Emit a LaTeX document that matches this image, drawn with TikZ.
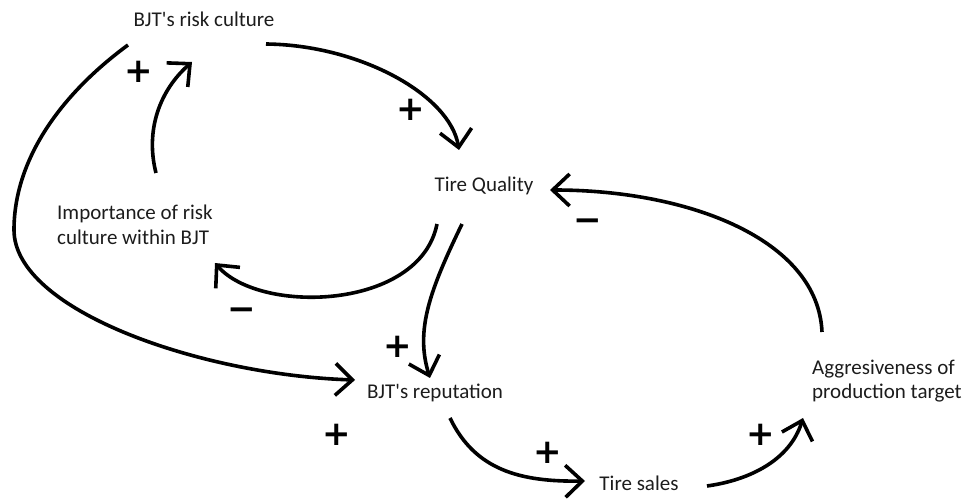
\documentclass[tikz,border=0pt]{standalone}
\usepackage{fontspec}
\setmainfont{Carlito}
\newfontfamily\signfont{DejaVu Sans}
\usetikzlibrary{arrows.meta}
\definecolor{inkblack}{RGB}{28,28,28}
\tikzset{
  factor/.style={inner sep=0pt, font=\fontsize{21}{24.5}\selectfont, text=inkblack},
  link/.style={line width=3.6pt, -{Straight Barb[length=17pt,width=32pt]}},
  polarity/.style={inner sep=0pt, font=\signfont\bfseries\fontsize{34}{34}\selectfont}
}
\begin{document}
\begin{tikzpicture}[x=1pt, y=-1pt]
  \useasboundingbox (0,0) rectangle (967,502);

  % Factors
  \node[factor] (risk) at (204,19) {BJT\textquotesingle s risk culture};
  \node[factor] (quality) at (484,186) {Tire Quality};
  \node[factor, align=left, anchor=west] (importance) at (57,225) {Importance of risk\\culture within BJT};
  \node[factor] (reputation) at (435,393) {BJT\textquotesingle s reputation};
  \node[factor] (sales) at (639,483) {Tire sales};
  \node[factor, align=left, anchor=west] (aggr) at (812,381) {Aggresiveness of\\production target};

  % Links
  \draw[link] ([shift={(62,25)}]risk.center) .. controls (360,45) and (450,95) .. ([shift={(-25,-36)}]quality.center);
  \draw[link] ([shift={(99,-52)}]importance.west) .. controls (145,130) and (160,90) .. ([shift={(-12,43)}]risk.center);
  \draw[link] ([shift={(-76,26)}]risk.center) .. controls (60,95) and (14,160) .. (14,230)
    .. controls (14,310) and (200,375) .. ([shift={(-80,-13)}]reputation.center);
  \draw[link] ([shift={(-47,38)}]quality.center) .. controls (420,310) and (260,315) .. ([shift={(158,38)}]importance.west);
  \draw[link] ([shift={(-22,38)}]quality.center) .. controls (430,290) and (415,330) .. ([shift={(-5,-15)}]reputation.center);
  \draw[link] ([shift={(15,25)}]reputation.center) .. controls (475,470) and (520,482) .. ([shift={(-54,-2)}]sales.center);
  \draw[link] ([shift={(68,3)}]sales.center) .. controls (750,480) and (790,460) .. ([shift={(-9,37)}]aggr.west);
  \draw[link] ([shift={(10,-49)}]aggr.west) .. controls (818,240) and (690,190) .. ([shift={(66,4)}]quality.center);

  % Polarities
  \node[polarity] (p1) at (139,72) {+};
  \node[polarity] (p2) at (411,110) {+};
  \node[polarity] (p3) at (242,314) {−};
  \node[polarity] (p4) at (398,347) {+};
  \node[polarity] (p5) at (337,435) {+};
  \node[polarity] (p6) at (548,453) {+};
  \node[polarity] (p7) at (761,435) {+};
  \node[polarity] (p8) at (588,225) {−};
\end{tikzpicture}
\end{document}
